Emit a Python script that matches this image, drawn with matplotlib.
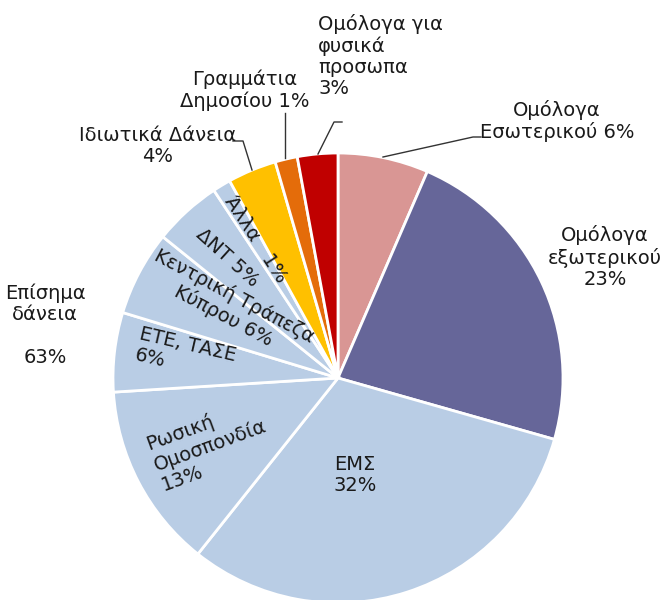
import matplotlib.pyplot as plt

# slices clockwise from 12 o'clock
labels = ['Ομόλογα Εσωτερικού', 'Ομόλογα εξωτερικού', 'ΕΜΣ', 'Ρωσική Ομοσπονδία',
          'ΕΤΕ, ΤΑΣΕ', 'Κεντρική Τράπεζα Κύπρου', 'ΔΝΤ', 'Άλλα', 'Ιδιωτικά Δάνεια',
          'Γραμμάτια Δημοσίου', 'Ομόλογα για φυσικά προσωπα']
shares = [6.5, 22.9, 31.3, 13.3, 5.7, 6.1, 4.9, 1.3, 3.5, 1.6, 2.9]
pct_text = ['6%', '23%', '32%', '13%', '6%', '6%', '5%', '1%', '4%', '1%', '3%']
official_total = '63%'

colors = ['#D99694', '#666699', '#B9CDE5', '#B9CDE5', '#B9CDE5', '#B9CDE5',
          '#B9CDE5', '#B9CDE5', '#FFC000', '#E46C0A', '#C00000']

W, H = 662, 600
cx, cy, R = 338, 378, 225

fig = plt.figure(figsize=(W / 100, H / 100), dpi=100)
ax = fig.add_axes([(cx - R) / W, (H - cy - R) / H, 2 * R / W, 2 * R / H])
ax.pie(shares, colors=colors, startangle=90, counterclock=False, radius=1,
       wedgeprops=dict(edgecolor='white', linewidth=2))
ax.set_xlim(-1, 1)
ax.set_ylim(-1, 1)
ax.set_aspect('equal')
ax.axis('off')


def p(px, py):
    # pixel coords (top-left origin) -> data coords of the pie axes
    return (px - cx) / R, (cy - py) / R


fs = 14
kw = dict(fontsize=fs, color='#1a1a1a', ha='center', va='center',
          linespacing=1.15, clip_on=False)

ax.text(*p(557, 121), 'Ομόλογα\nΕσωτερικού ' + pct_text[0], **kw)
ax.text(*p(605, 257), 'Ομόλογα\nεξωτερικού\n' + pct_text[1], **kw)
ax.text(*p(355, 475), 'ΕΜΣ\n' + pct_text[2], **kw)
ax.text(*p(210, 445), 'Ρωσική\nΟμοσπονδία\n' + pct_text[3], rotation=20,
        rotation_mode='anchor', multialignment='left', **kw)
ax.text(*p(185, 355), 'ΕΤΕ, ΤΑΣΕ\n' + pct_text[4], rotation=-13,
        rotation_mode='anchor', multialignment='left', **kw)
ax.text(*p(229, 306), 'Κεντρική Τράπεζα\nΚύπρου ' + pct_text[5], rotation=-28,
        rotation_mode='anchor', **kw)
ax.text(*p(227, 258), 'ΔΝΤ ' + pct_text[6], rotation=-42,
        rotation_mode='anchor', **kw)
ax.text(*p(256, 240), 'Άλλα   ' + pct_text[7], rotation=-57,
        rotation_mode='anchor', **kw)
ax.text(*p(158, 146), 'Ιδιωτικά Δάνεια\n' + pct_text[8], **kw)
ax.text(*p(245, 90), 'Γραμμάτια\nΔημοσίου ' + pct_text[9], **kw)
ax.text(*p(318, 56), 'Ομόλογα για\nφυσικά\nπροσωπα\n' + pct_text[10],
        **{**kw, 'ha': 'left', 'multialignment': 'left'})
ax.text(*p(45, 325), 'Επίσημα\nδάνεια\n\n' + official_total, **kw)

# leader lines
line_kw = dict(color='#333333', linewidth=1, clip_on=False)
for pts in [[(481, 137), (473, 137), (383, 157)],
            [(342, 122), (334, 122), (318, 154)],
            [(285, 113), (285, 158)],
            [(233, 141), (243, 141), (252, 170)]]:
    xs, ys = zip(*[p(a, b) for a, b in pts])
    ax.plot(xs, ys, **line_kw)

fig.savefig('out.png', dpi=100)
